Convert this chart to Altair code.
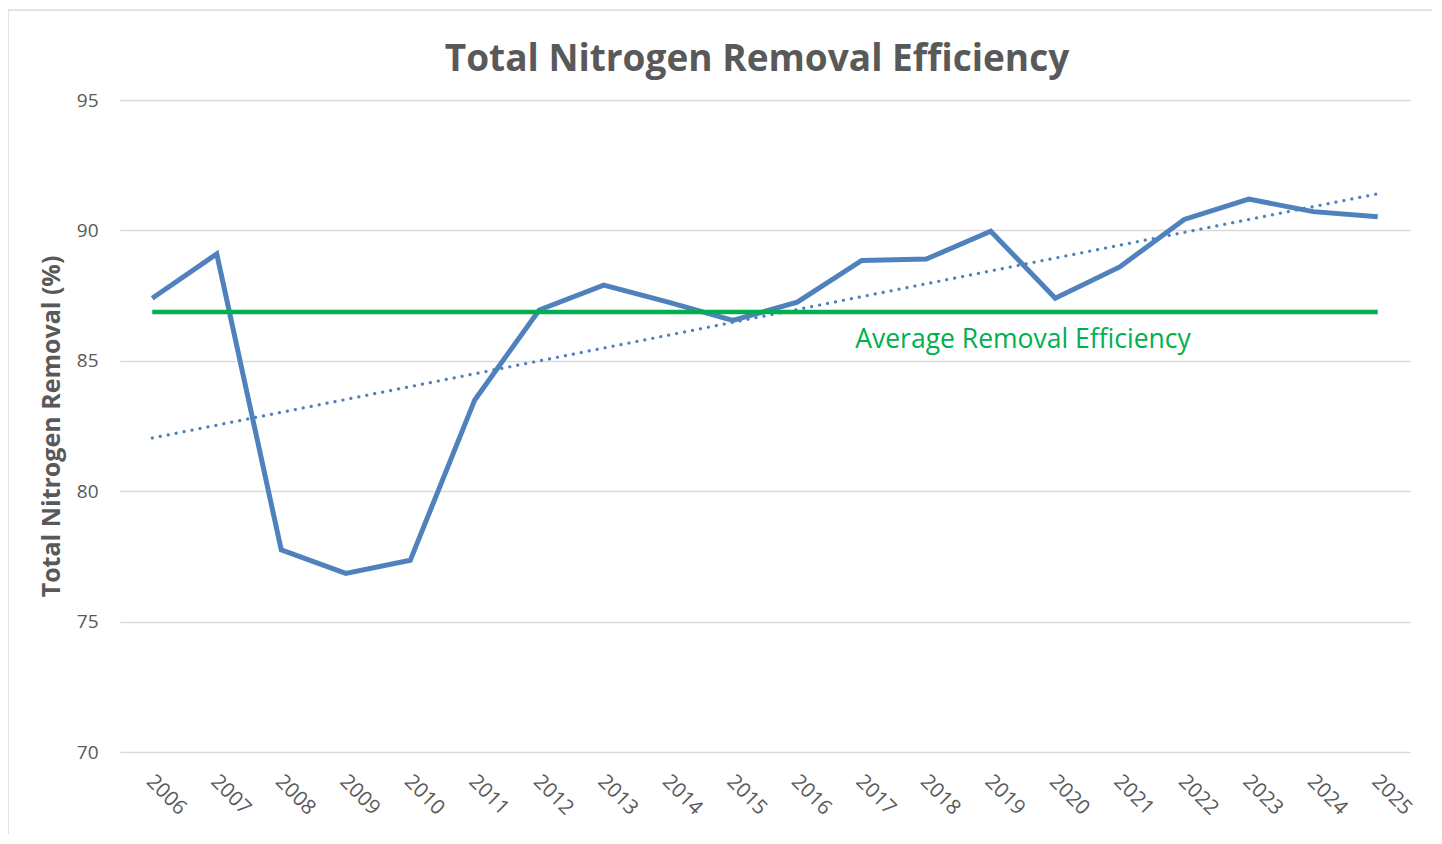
import altair as alt
import pandas as pd

YEARS = [2006, 2007, 2008, 2009, 2010, 2011, 2012, 2013, 2014, 2015,
         2016, 2017, 2018, 2019, 2020, 2021, 2022, 2023, 2024, 2025]
REMOVAL = [87.4, 89.1, 77.75, 76.85, 77.35, 83.5, 86.95, 87.9, 87.25, 86.55,
           87.25, 88.85, 88.9, 89.97, 87.4, 88.6, 90.42, 91.2, 90.72, 90.52]
AVERAGE = 86.87
LABEL_TEXT = ["Average Removal Efficiency"]
LABEL_YEAR = [2019.5]
TITLE = ["Total Nitrogen Removal Efficiency"]
Y_TICKS = [70, 75, 80, 85, 90, 95]

GRAY = "#595959"
BLUE = "#4f81bd"
GREEN = "#00b050"
FONT = "Open Sans"

df = pd.DataFrame({"year": YEARS, "value": REMOVAL})
avg_df = pd.DataFrame({"x": [min(YEARS)], "x2": [max(YEARS)], "y": [AVERAGE]})
lab_df = pd.DataFrame({"x": LABEL_YEAR, "y": [AVERAGE], "t": LABEL_TEXT})
title_df = pd.DataFrame({"t": TITLE})

xscale = alt.Scale(domain=[min(YEARS) - 0.5, max(YEARS) + 0.5], nice=False, zero=False)
yscale = alt.Scale(domain=[70, 95], nice=False, zero=False)

xaxis = alt.Axis(values=YEARS, format="d", labelAngle=45, labelAlign="left",
                 labelBaseline="top", grid=False, ticks=False, domain=False,
                 labelPadding=19, labelOffset=4, labelFontSize=20.5,
                 labelColor=GRAY, labelFont=FONT, title=None)
yaxis = alt.Axis(values=Y_TICKS, grid=True, gridColor="#d9d9d9", gridWidth=1.5,
                 ticks=False, domain=False, labelPadding=22, labelFontSize=19,
                 labelColor=GRAY, labelFont=FONT,
                 title="Total Nitrogen Removal (%)", titleFontSize=25,
                 titleFont=FONT, titleFontWeight="bold", titleColor=GRAY,
                 titlePadding=12)

base = alt.Chart(df)

line = base.mark_line(color=BLUE, strokeWidth=5, strokeJoin="miter").encode(
    x=alt.X("year:Q", scale=xscale, axis=xaxis),
    y=alt.Y("value:Q", scale=yscale, axis=yaxis),
)

trend = base.transform_regression("year", "value").mark_line(
    color=BLUE, strokeWidth=3.2, strokeDash=[0.1, 8], strokeCap="round"
).encode(x="year:Q", y="value:Q")

avg = alt.Chart(avg_df).mark_rule(color=GREEN, strokeWidth=4.5).encode(
    x="x:Q", x2="x2:Q", y="y:Q"
)

label = alt.Chart(lab_df).mark_text(
    color=GREEN, fontSize=26.5, font=FONT, dy=28, align="center", baseline="middle"
).encode(x="x:Q", y="y:Q", text="t:N")

title = alt.Chart(title_df).mark_text(
    color=GRAY, fontSize=37, font=FONT, fontWeight="bold", align="center",
    baseline="alphabetic"
).encode(x=alt.value(637), y=alt.value(-29), text="t:N")

frame = alt.Chart(avg_df).mark_rect(fill=None, stroke="#d9d9d9", strokeWidth=1.5).encode(
    x=alt.value(-112), x2=alt.value(1317), y=alt.value(-90), y2=alt.value(780)
)

chart = alt.layer(frame, trend, line, avg, label, title).properties(
    width=1290, height=652,
    autosize=alt.AutoSizeParams(type="none"),
    padding={"left": 112, "top": 92, "right": 22, "bottom": 82},
    background="white",
).configure_view(stroke=None)

chart.save("out.html", embed_options={"renderer": "svg", "actions": False})
